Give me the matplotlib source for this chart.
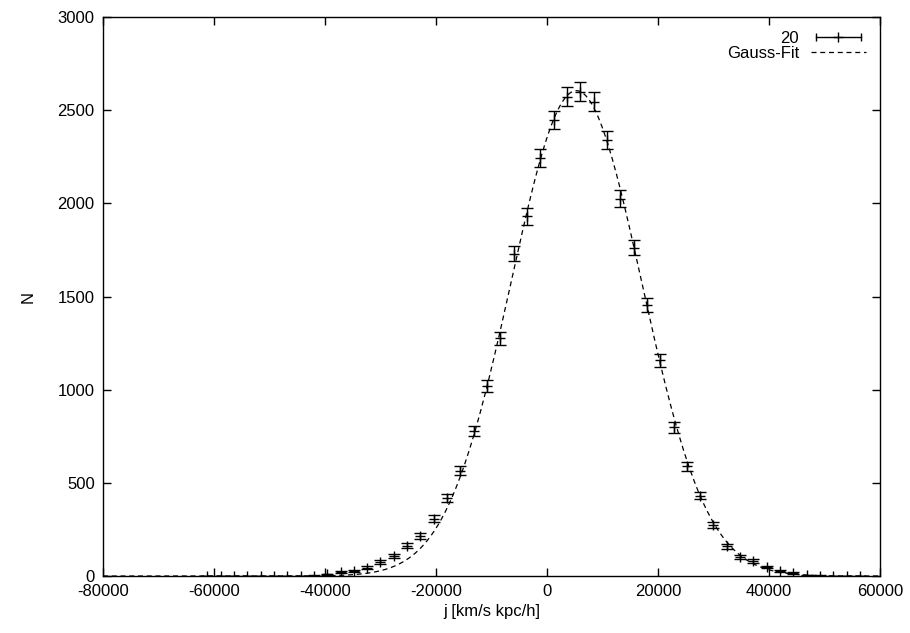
import numpy as np
import matplotlib
matplotlib.use("Agg")
import matplotlib.pyplot as plt
from matplotlib.lines import Line2D
from matplotlib.legend_handler import HandlerLine2D, HandlerTuple

plt.rcParams['font.family'] = ['Liberation Sans', 'DejaVu Sans']
plt.rcParams['font.size'] = 12
plt.rcParams['axes.unicode_minus'] = False

# histogram of specific angular momentum j (bin centres, counts)
j_bins = [-61200, -58800, -56400, -54000, -51600, -49200, -46800, -44400,
          -42000, -39600, -37200, -34800, -32400, -30000, -27600, -25200,
          -22800, -20400, -18000, -15600, -13200, -10800, -8400, -6000,
          -3600, -1200, 1200, 3600, 6000, 8400, 10800, 13200,
          15600, 18000, 20400, 22800, 25200, 27600, 30000, 32400,
          34800, 37200, 39600, 42000, 44400, 46800, 49200, 51600,
          54000, 56400]
counts = [0, 0, 0, 0, 0, 0, 0, 1,
          2, 10, 21, 25, 45, 75, 107, 163,
          215, 308, 420, 566, 780, 1018, 1275, 1731,
          1930, 2243, 2448, 2572, 2600, 2545, 2340, 2025,
          1763, 1453, 1158, 798, 588, 432, 274, 159,
          102, 81, 48, 27, 16, 5, 2, 1,
          0, 0]

# gaussian fit parameters
fit_amp = 2605.0
fit_mu = 5300.0
fit_sigma = 11750.0

x = np.array(j_bins, dtype=float)
n = np.array(counts, dtype=float)
err = np.sqrt(n)

fig = plt.figure(figsize=(9.1, 6.33), dpi=100)
ax = fig.add_axes([0.1132, 0.0900, 0.8538, 0.8830])

ax.errorbar(x, n, yerr=err, fmt='+', color='black', ms=7, mew=1.0,
            elinewidth=1.0, capsize=4, capthick=1.0)

xs = np.linspace(-80000, 60000, 1200)
gauss = fit_amp * np.exp(-(xs - fit_mu) ** 2 / (2 * fit_sigma ** 2))
fit_line, = ax.plot(xs, gauss, color='black', lw=0.9, ls=(0, (4, 3)))

ax.set_xlim(-80000, 60000)
ax.set_ylim(0, 3000)
ax.set_xticks(range(-80000, 60001, 20000))
ax.set_yticks(range(0, 3001, 500))
ax.tick_params(direction='in', top=True, right=True, length=6, width=1,
               labelsize=12, pad=6)
for s in ax.spines.values():
    s.set_linewidth(1.0)

ax.set_xlabel("j [km/s kpc/h]", labelpad=3)
ax.set_ylabel("N", labelpad=16)

# gnuplot-style key: errorbar sample and dashed line sample
caps = Line2D([], [], color='black', lw=1.0, marker='|', ms=6, mew=1.0)
plus = Line2D([], [], color='black', lw=0, marker='+', ms=7, mew=1.0)
ax.legend([(caps, plus), fit_line], ["20", "Gauss-Fit"],
          handler_map={caps: HandlerLine2D(numpoints=2),
                       plus: HandlerLine2D(numpoints=1),
                       tuple: HandlerTuple(ndivide=1)},
          loc='upper right', frameon=False, markerfirst=False,
          handlelength=3.3, handletextpad=0.7, labelspacing=0.0,
          borderaxespad=0.45, fontsize=12)

fig.savefig("out.png", dpi=100)
